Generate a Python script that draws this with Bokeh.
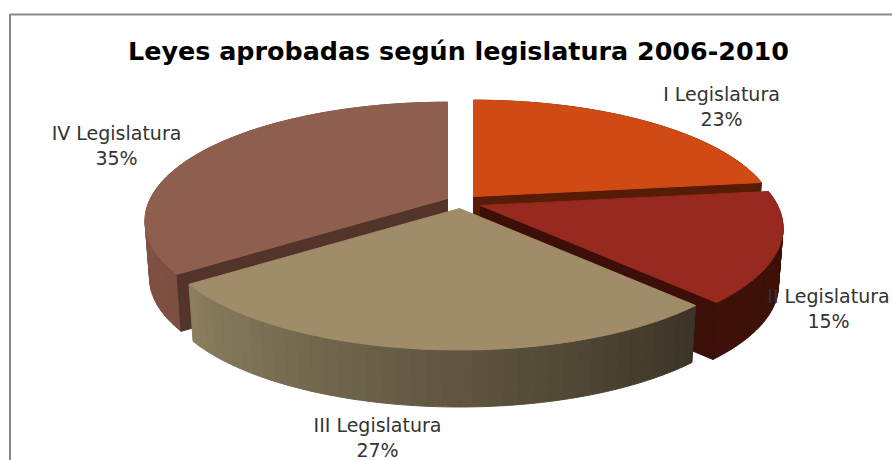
import numpy as np
from bokeh.plotting import figure
from bokeh.models import Range1d, BoxAnnotation
from bokeh.core.properties import value
from bokeh.embed import file_html
from bokeh.resources import INLINE

categories = ["I Legislatura", "II Legislatura", "III Legislatura", "IV Legislatura"]
values = [23, 15, 27, 35]
labels = ["23%", "15%", "27%", "35%"]
title = "Leyes aprobadas según legislatura 2006-2010"

apex = {0: (473, 196), 1: (480, 205), 2: (459, 208), 3: (447, 198)}
top_col = ["#D04A14", "#98291E", "#A08C69", "#8F5F4E"]
face_col = ["#561C08", "#3C0F08", "#3E3628", "#52342A"]
rim_stops = [("#561C08", "#561C08"), ("#3E1008", "#3E1008"), ("#8A7E5E", "#3C3427"), ("#7C4F40", "#8E5D4C")]
label_pos = [(721, 93), (828, 295), (377, 424), (116, 132)]

A, B, K, DEPTH, SHRINK = 297.0, 114.6, 0.19, 57.0, 0.985

def proj(theta, c):
    X, Y = np.sin(theta), np.cos(theta)
    w = 1 + K * Y
    return c[0] + A * X / w, c[1] - B * Y / w

def lower(x, y, c):
    return c[0] + (np.asarray(x) - c[0]) * SHRINK, np.asarray(y) + DEPTH

def hexlerp(c1, c2, t):
    a = np.array([int(c1[i:i + 2], 16) for i in (1, 3, 5)])
    b = np.array([int(c2[i:i + 2], 16) for i in (1, 3, 5)])
    v = (a + (b - a) * t).round().astype(int)
    return "#%02x%02x%02x" % tuple(v)

p = figure(width=892, height=460, x_range=Range1d(0, 892), y_range=Range1d(460, 0),
           toolbar_location=None, output_backend="svg", min_border=0,
           outline_line_color=None, background_fill_color="white")
p.axis.visible = False
p.grid.visible = False
p.add_layout(BoxAnnotation(left=9.5, right=920, top=14, bottom=500, fill_alpha=0,
                           line_color="#878787", line_alpha=1, line_width=2))

fr = np.cumsum([0] + values) / sum(values) * 2 * np.pi

def draw(i):
    c = apex[i]
    t0, t1 = fr[i], fr[i + 1]
    th = np.linspace(t0, t1, 121)
    x, y = proj(th, c)
    bx, by = lower(x, y, c)
    n = 40
    idx = np.linspace(0, 120, n + 1).astype(int)
    for s in range(n):
        j0, j1 = idx[s], idx[s + 1]
        sx = list(x[j0:j1 + 1]) + list(bx[j0:j1 + 1][::-1])
        sy = list(y[j0:j1 + 1]) + list(by[j0:j1 + 1][::-1])
        col = hexlerp(rim_stops[i][1], rim_stops[i][0], s / (n - 1)) if i == 2 else hexlerp(rim_stops[i][0], rim_stops[i][1], s / (n - 1))
        p.patch(sx, sy, fill_color=col, line_color=col, line_width=1)
    if i in (0, 1, 3):
        te = t1 if i != 3 else t0
        ex, ey = proj(te, c)
        bex, bey = lower(ex, ey, c)
        p.patch([c[0], ex, bex, c[0]], [c[1], ey, bey, c[1] + DEPTH],
                fill_color=face_col[i], line_color=face_col[i], line_width=1)
    p.patch([c[0]] + list(x), [c[1]] + list(y), fill_color=top_col[i],
            line_color=top_col[i], line_width=1)

for i in (0, 3, 1, 2):
    draw(i)

p.text([458], [50], text=[title], text_font=value("DejaVu Sans"), text_font_style="bold",
       text_font_size="25.4px", text_color="#000000", text_align="center", text_baseline="middle")
for (lx, ly), cat, lab in zip(label_pos, categories, labels):
    p.text([lx, lx], [ly, ly + 25], text=[cat, lab], text_font=value("DejaVu Sans"),
           text_font_size="19px", text_color="#333333", text_align="center", text_baseline="middle")

open("out.html", "w").write(file_html(p, INLINE))
